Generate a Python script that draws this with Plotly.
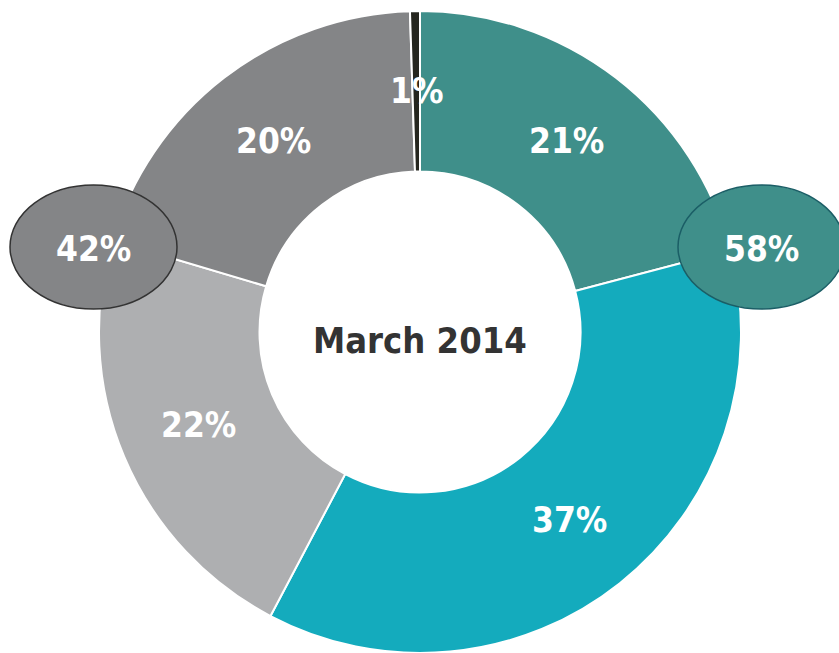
import math
import plotly.graph_objects as go

# Data #########################################################################
segments = ['Segment A', 'Segment B', 'Segment C', 'Segment D', 'Other']
shares = [21, 37, 22, 20, 0.5]
share_labels = ['21%', '37%', '22%', '20%', '1%']
colors = ['#3f8f8a', '#14abbd', '#aeafb1', '#848587', '#25261f']

center_label = 'March 2014'
group_labels = ['42%', '58%']   # grey slices total, teal slices total

FONT = 'Liberation Sans Narrow, Arial Narrow, DejaVu Sans Condensed, sans-serif'

W, H = 839, 653
CX, CY, R, HOLE = 420, 332, 321, 0.5   # pie centre / radius in pixels

fig = go.Figure()

fig.add_trace(go.Pie(
    labels=segments,
    values=shares,
    text=share_labels,
    textinfo='none',
    marker=dict(colors=colors, line=dict(color='white', width=2)),
    hole=HOLE,
    sort=False,
    direction='clockwise',
    rotation=0,
    domain=dict(x=[(CX - R) / W, (CX + R) / W], y=[1 - (CY + R) / H, 1 - (CY - R) / H]),
    showlegend=False,
    hoverinfo='label+text',
))

# slice labels at the middle of the ring, angle taken from the data
total = sum(shares)
cum = 0
r_mid = R * (1 + HOLE) / 2
for val, txt in zip(shares, share_labels):
    ang = 2 * math.pi * (cum + val / 2) / total
    cum += val
    fig.add_annotation(xref='paper', yref='paper',
                       x=(CX + r_mid * math.sin(ang)) / W,
                       y=1 - (CY - r_mid * math.cos(ang)) / H,
                       xanchor='center', yanchor='middle',
                       text=txt, showarrow=False,
                       font=dict(family=FONT, size=35, color='white', weight='bold'))

# group badges (ellipses) ######################################################
badges = [
    dict(x0=10, x1=177, fill='#848587', line='#333333'),
    dict(x0=678, x1=845, fill='#3f8f8a', line='#1b5e66'),
]
for b, txt in zip(badges, group_labels):
    fig.add_shape(type='circle', xref='paper', yref='paper',
                  x0=b['x0'] / W, x1=b['x1'] / W,
                  y0=1 - 309 / H, y1=1 - 185 / H,
                  fillcolor=b['fill'], line=dict(color=b['line'], width=1.5),
                  layer='above')
    fig.add_annotation(xref='paper', yref='paper',
                       x=(b['x0'] + b['x1']) / 2 / W, y=1 - 249 / H,
                       xanchor='center', yanchor='middle',
                       text=txt, showarrow=False,
                       font=dict(family=FONT, size=35, color='white', weight='bold'))

fig.add_annotation(xref='paper', yref='paper',
                   x=CX / W, y=1 - 340 / H,
                   xanchor='center', yanchor='middle',
                   text=center_label, showarrow=False,
                   font=dict(family=FONT, size=36, color='#333333', weight='bold'))

fig.update_layout(width=W, height=H,
                  margin=dict(l=0, r=0, t=0, b=0),
                  paper_bgcolor='white',
                  plot_bgcolor='white')

fig.write_html('out.html',
               config={'displayModeBar': False},
               post_script="document.body.style.margin='0';document.body.style.overflow='hidden';")
